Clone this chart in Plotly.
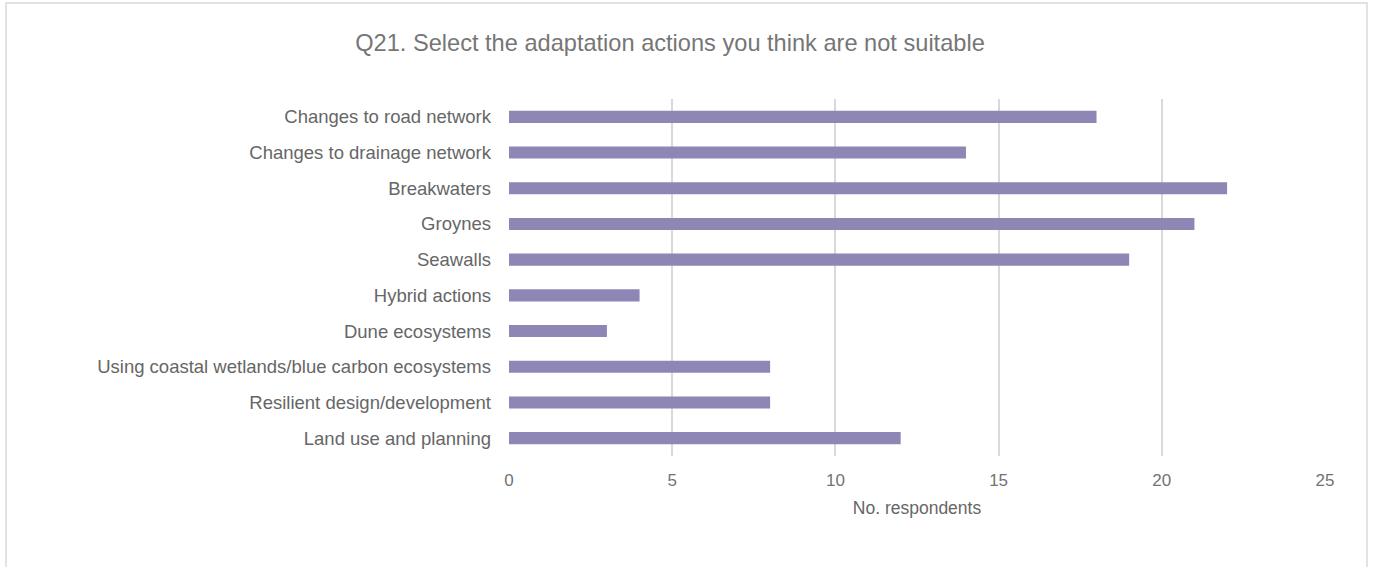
import plotly.graph_objects as go

categories = [
    "Changes to road network",
    "Changes to drainage network",
    "Breakwaters",
    "Groynes",
    "Seawalls",
    "Hybrid actions",
    "Dune ecosystems",
    "Using coastal wetlands/blue carbon ecosystems",
    "Resilient design/development",
    "Land use and planning",
]
values = [18, 14, 22, 21, 19, 4, 3, 8, 8, 12]
x_ticks = [0, 5, 10, 15, 20, 25]

W, H = 1373, 567
L, R, T, B = 509, 48, 99, 111
pw, ph = W - L - R, H - T - B

fig = go.Figure(go.Bar(
    x=values, y=categories, orientation="h",
    marker=dict(color="#8E86B4", line=dict(width=0)),
))

fig.update_layout(
    width=W, height=H,
    margin=dict(l=L, r=R, t=T, b=B),
    paper_bgcolor="white", plot_bgcolor="white",
    font=dict(family="Liberation Sans, Arial, sans-serif", size=16, color="#666666"),
    title=dict(text="Q21. Select the adaptation actions you think are not suitable",
               x=670 / W, xref="container", y=1 - 43 / H, yref="container",
               xanchor="center", yanchor="middle",
               font=dict(size=23.6, color="#767676")),
    bargap=0.66,
    showlegend=False,
    xaxis=dict(range=[0, 25], tickvals=x_ticks, showgrid=True, gridcolor="#D9D9D9",
               gridwidth=1.5, zeroline=False, showline=False, ticks="",
               ticklabelstandoff=12,
               tickfont=dict(size=17, color="#737373"),
               title=dict(text="No. respondents", font=dict(size=17.5, color="#666666"), standoff=12)),
    yaxis=dict(categoryorder="array", categoryarray=categories[::-1], autorange=True,
               showgrid=False, zeroline=False, showline=False, ticks="",
               ticklabelstandoff=17, tickfont=dict(size=18.5, color="#666666")),
    shapes=[dict(type="rect", xref="paper", yref="paper",
                 x0=(6 - L) / pw, x1=(1367 - L) / pw,
                 y0=(H - B - 620) / ph, y1=(H - B - 3) / ph,
                 line=dict(color="#D9D9D9", width=1.5), fillcolor="rgba(0,0,0,0)",
                 layer="below")],
)

fig.write_html("out.html", config={"displayModeBar": False},
               post_script="document.body.style.margin='0';")
